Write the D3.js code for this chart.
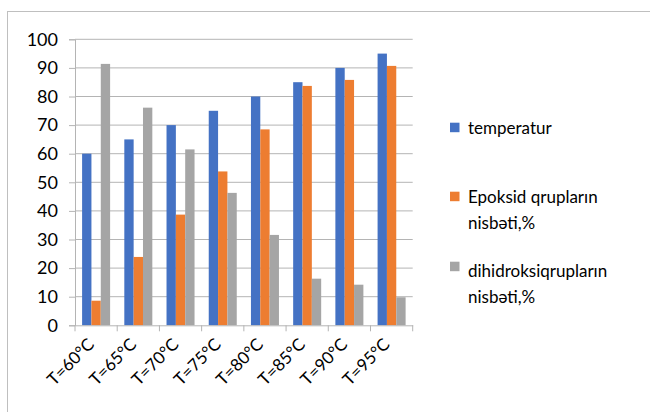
<!DOCTYPE html>
<html lang="az">
<head>
<meta charset="UTF-8">
<title>chart</title>
<script src="https://cdn.jsdelivr.net/npm/d3@7"></script>
<style>
  body { margin: 0; background: #fff; }
  text { font-family: Lato, "Open Sans", sans-serif; fill: #000; }
</style>
</head>
<body>
<div id="chart"></div>
<script>
    // data
    var categories = ["T=60°C", "T=65°C", "T=70°C", "T=75°C", "T=80°C", "T=85°C", "T=90°C", "T=95°C"];
    var temperatur = [60, 65, 70, 75, 80, 85, 90, 95];
    var epoksid = [8.6, 23.9, 38.7, 53.8, 68.5, 83.7, 85.8, 90.7];
    var dihidroksi = [91.4, 76.1, 61.5, 46.3, 31.6, 16.3, 14.2, 9.8];
    var seriesNames = [["temperatur"], ["Epoksid qrupların", "nisbəti,%"], ["dihidroksiqrupların", "nisbəti,%"]];
    var yTicks = [0, 10, 20, 30, 40, 50, 60, 70, 80, 90, 100];

    var colors = ["#4472C4", "#ED7D31", "#A5A5A5"];
    var series = [temperatur, epoksid, dihidroksi];

    var W = 650, H = 412;
    var svg = d3.select("#chart").append("svg")
        .attr("width", W)
        .attr("height", H);

    // outer chart border
    svg.append("rect")
        .attr("x", 7.5).attr("y", 11.5)
        .attr("width", 700).attr("height", 500)
        .attr("fill", "none")
        .attr("stroke", "#bfbfbf");

    var pLeft = 75, pRight = 412.7, pTop = 39.3, pBottom = 325.3;

    var x = d3.scaleBand().domain(categories).range([pLeft, pRight]).paddingInner(0).paddingOuter(0);
    var y = d3.scaleLinear().domain([0, 100]).range([pBottom, pTop]);
    var groupPad = 7.1;
    var xs = d3.scaleBand().domain([0, 1, 2])
        .range([groupPad, x.bandwidth() - groupPad]);

    // gridlines
    svg.append("g").selectAll("line")
        .data(yTicks.slice(1))
        .enter().append("line")
        .attr("x1", pLeft).attr("x2", pRight)
        .attr("y1", function (d) { return y(d); })
        .attr("y2", function (d) { return y(d); })
        .attr("stroke", "#b4b4b4")
        .attr("stroke-width", 1);

    // bars
    var g = svg.append("g");
    series.forEach(function (vals, s) {
        g.append("g").selectAll("rect")
            .data(vals)
            .enter().append("rect")
            .attr("x", function (d, i) { return x(categories[i]) + xs(s); })
            .attr("width", xs.bandwidth())
            .attr("y", function (d) { return y(d); })
            .attr("height", function (d) { return pBottom - y(d); })
            .attr("fill", colors[s]);
    });

    // y axis
    var yAxis = svg.append("g")
        .attr("transform", "translate(" + pLeft + ",0)")
        .call(d3.axisLeft(y).tickValues(yTicks).tickSize(6).tickPadding(11));
    yAxis.select(".domain").attr("stroke", "#b4b4b4");
    yAxis.selectAll(".tick line").attr("stroke", "#b4b4b4");
    yAxis.selectAll(".tick text").style("font-size", "18px").attr("fill", "#000");

    // x axis
    var xAxis = svg.append("g")
        .attr("transform", "translate(0," + pBottom + ")")
        .call(d3.axisBottom(x).tickSize(0).tickFormat(""));
    xAxis.select(".domain").attr("stroke", "#b4b4b4");
    var bounds = d3.range(categories.length + 1).map(function (i) { return pLeft + i * x.bandwidth(); });
    xAxis.selectAll(".bnd").data(bounds).enter().append("line")
        .attr("x1", function (d) { return d; }).attr("x2", function (d) { return d; })
        .attr("y1", 0).attr("y2", 6)
        .attr("stroke", "#b4b4b4");

    svg.append("g").selectAll("text")
        .data(categories)
        .enter().append("text")
        .attr("transform", function (d) {
            return "translate(" + (x(d) + x.bandwidth() / 2 - 5) + "," + (pBottom + 16) + ") rotate(-45)";
        })
        .attr("text-anchor", "end")
        .attr("dy", "0.35em")
        .style("font-size", "17px")
        .text(function (d) { return d; });

    // legend
    var legendSq = [122.7, 191.7, 261.7];
    var legendTxt = [134.3, 203, 277];
    var leg = svg.append("g");
    seriesNames.forEach(function (lines, i) {
        leg.append("rect")
            .attr("x", 450).attr("y", legendSq[i])
            .attr("width", 9.5).attr("height", 9.5)
            .attr("fill", colors[i]);
        lines.forEach(function (t, j) {
            leg.append("text")
                .attr("x", 468)
                .attr("y", legendTxt[i] + j * 26)
                .style("font-size", "17px")
                .text(t);
        });
    });
</script>
</body>
</html>
